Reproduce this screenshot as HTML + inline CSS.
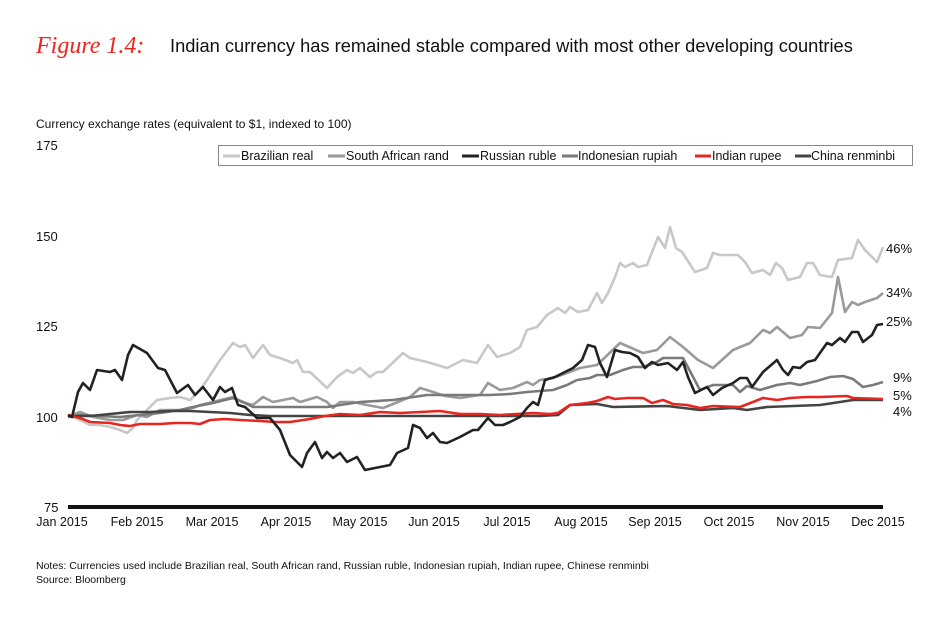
<!DOCTYPE html>
<html><head><meta charset="utf-8"><style>
body{margin:0;background:#fff;width:950px;height:627px;overflow:hidden}
svg{display:block;font-family:"Liberation Sans",sans-serif}
</style></head><body>
<svg width="950" height="627" viewBox="0 0 950 627" xmlns="http://www.w3.org/2000/svg">
<text x="36" y="53" font-family="Liberation Serif,serif" font-style="italic" font-size="24" fill="#e8261f">Figure 1.4:</text>
<text x="170" y="52" font-size="18.3" fill="#111">Indian currency has remained stable compared with most other developing countries</text>
<text x="36" y="128" font-size="12" fill="#111">Currency exchange rates (equivalent to $1, indexed to 100)</text>
<g font-size="13" fill="#111">
<text x="36" y="150">175</text><text x="36" y="241">150</text><text x="36" y="331">125</text><text x="36" y="422">100</text><text x="44" y="512">75</text>
</g>
<rect x="218.5" y="145.5" width="694" height="20" fill="#fff" stroke="#888"/>
<g font-size="12.5" fill="#111">
<line x1="223" y1="156" x2="240" y2="156" stroke="#c8c8ca" stroke-width="3"/><text x="241" y="160">Brazilian real</text>
<line x1="328" y1="156" x2="345" y2="156" stroke="#9a9a9a" stroke-width="3"/><text x="346" y="160">South African rand</text>
<line x1="462" y1="156" x2="479" y2="156" stroke="#222" stroke-width="3"/><text x="480" y="160">Russian ruble</text>
<line x1="562" y1="156" x2="578" y2="156" stroke="#7a7a7a" stroke-width="3"/><text x="578" y="160">Indonesian rupiah</text>
<line x1="695" y1="156" x2="711" y2="156" stroke="#e8261f" stroke-width="3"/><text x="712" y="160">Indian rupee</text>
<line x1="795" y1="156" x2="811" y2="156" stroke="#444" stroke-width="3"/><text x="811" y="160">China renminbi</text>
</g>
<g fill="none" stroke-width="2.6" stroke-linejoin="round">
<polyline stroke="#c8c8ca" points="68,415 80,420 90,425 100,425 110,427 120,430 127,433 133,428 137,420 147,410 157,400 170,398 180,397 190,400 200,390 207,380 220,360 233,343 240,347 245,345 253,358 263,345 270,355 280,358 293,363 297,360 303,372 310,372 327,388 337,377 347,370 353,373 360,368 370,377 377,372 383,372 403,353 410,358 427,362 447,368 463,360 477,363 488,345 497,357 510,353 520,347 527,330 537,327 547,315 558,308 565,313 570,307 578,312 588,310 597,293 602,303 608,293 615,277 620,263 625,267 633,263 638,267 647,265 658,237 665,248 670,227 676,248 682,252 695,272 707,268 713,253 720,255 738,255 745,262 752,273 763,270 770,275 776,263 782,268 788,280 800,277 807,263 813,263 820,275 832,277 838,260 852,258 858,240 865,250 877,262 883,247"/>
<polyline stroke="#9a9a9a" points="68,417 80,412 93,417 110,420 123,420 137,415 147,417 160,410 180,410 193,408 200,405 213,402 233,397 242,402 253,405 263,397 273,402 293,398 300,402 317,397 327,402 333,408 340,402 353,402 367,405 383,408 393,404 410,397 420,388 430,391 445,396 460,398 480,395 488,383 500,390 513,388 527,382 533,385 540,380 553,378 567,373 580,368 597,365 620,343 643,353 657,350 670,337 683,347 698,360 713,368 733,350 750,343 763,330 770,333 777,327 790,338 802,335 808,327 820,328 832,313 838,277 845,312 852,302 858,305 865,302 877,298 883,293"/>
<polyline stroke="#7a7a7a" points="68,417 80,415 100,416 120,417 140,415 160,413 180,410 193,407 213,403 233,398 243,402 253,407 273,407 293,407 327,407 360,402 393,400 427,395 460,395 490,395 510,394 527,392 553,390 567,385 577,380 590,378 597,375 610,375 623,370 633,367 643,367 657,362 663,358 683,358 700,390 713,385 733,385 740,392 747,386 760,390 777,385 790,383 800,385 817,381 830,377 843,376 853,379 863,387 873,385 883,382"/>
<polyline stroke="#444" points="68,416 90,416 110,414 130,412 150,412 170,411 190,411 210,412 230,413 250,415 270,416 290,416 310,416 340,416 380,416 420,416 460,416 500,416 540,416 558,415 570,405 597,404 613,407 667,406 700,410 733,408 747,410 767,407 820,405 840,402 853,400 883,400"/>
<polyline stroke="#e8261f" points="68,415 80,418 90,422 110,423 120,425 130,426 140,424 160,424 175,423 190,423 200,424 210,420 225,419 240,420 260,421 275,422 290,422 310,419 325,416 340,414 360,415 380,412 400,413 420,412 440,411 460,414 480,414 500,415 533,413 550,414 558,413 570,405 587,403 597,401 608,397 615,399 627,398 643,398 652,403 663,400 673,404 687,405 700,408 713,406 740,407 753,402 763,398 777,400 790,398 807,397 820,397 847,396 853,398 883,399"/>
<polyline stroke="#222" points="68,415 72,417 78,392 83,383 90,390 97,370 110,372 115,370 122,380 128,355 133,345 147,353 158,368 165,370 177,393 188,385 195,395 203,387 213,400 220,387 225,392 232,388 238,405 245,407 257,418 270,418 280,430 290,455 302,467 307,453 315,442 322,458 327,452 333,458 340,453 347,462 357,457 365,470 380,467 390,465 397,453 408,448 413,425 420,428 427,438 433,433 440,442 447,443 460,437 473,430 478,430 488,418 495,425 503,425 510,422 520,417 527,408 533,402 538,405 545,380 555,377 563,373 573,368 582,360 588,345 595,347 600,363 607,377 615,350 622,352 630,353 638,357 645,368 652,362 658,365 668,363 677,370 683,362 688,377 695,393 707,387 713,395 722,388 733,383 740,378 747,378 752,387 763,372 777,360 783,370 788,375 793,367 800,368 807,362 815,360 827,343 832,345 840,338 845,342 852,332 858,332 863,342 872,335 877,325 883,324"/>
</g>
<line x1="68" y1="507" x2="883" y2="507" stroke="#111" stroke-width="4"/>
<g font-size="13" fill="#111">
<text x="886" y="253">46%</text><text x="886" y="297">34%</text><text x="886" y="326">25%</text>
<text x="893" y="382">9%</text><text x="893" y="400">5%</text><text x="893" y="416">4%</text>
</g>
<g font-size="12.5" fill="#111" text-anchor="middle">
<text x="62" y="526">Jan 2015</text><text x="137" y="526">Feb 2015</text><text x="212" y="526">Mar 2015</text><text x="286" y="526">Apr 2015</text><text x="360" y="526">May 2015</text><text x="434" y="526">Jun 2015</text><text x="507" y="526">Jul 2015</text><text x="581" y="526">Aug 2015</text><text x="655" y="526">Sep 2015</text><text x="729" y="526">Oct 2015</text><text x="803" y="526">Nov 2015</text><text x="878" y="526">Dec 2015</text>
</g>
<text x="36" y="569" font-size="10.5" fill="#111">Notes: Currencies used include Brazilian real, South African rand, Russian ruble, Indonesian rupiah, Indian rupee, Chinese renminbi</text>
<text x="36" y="583" font-size="10.5" fill="#111">Source: Bloomberg</text>
</svg>
</body></html>
